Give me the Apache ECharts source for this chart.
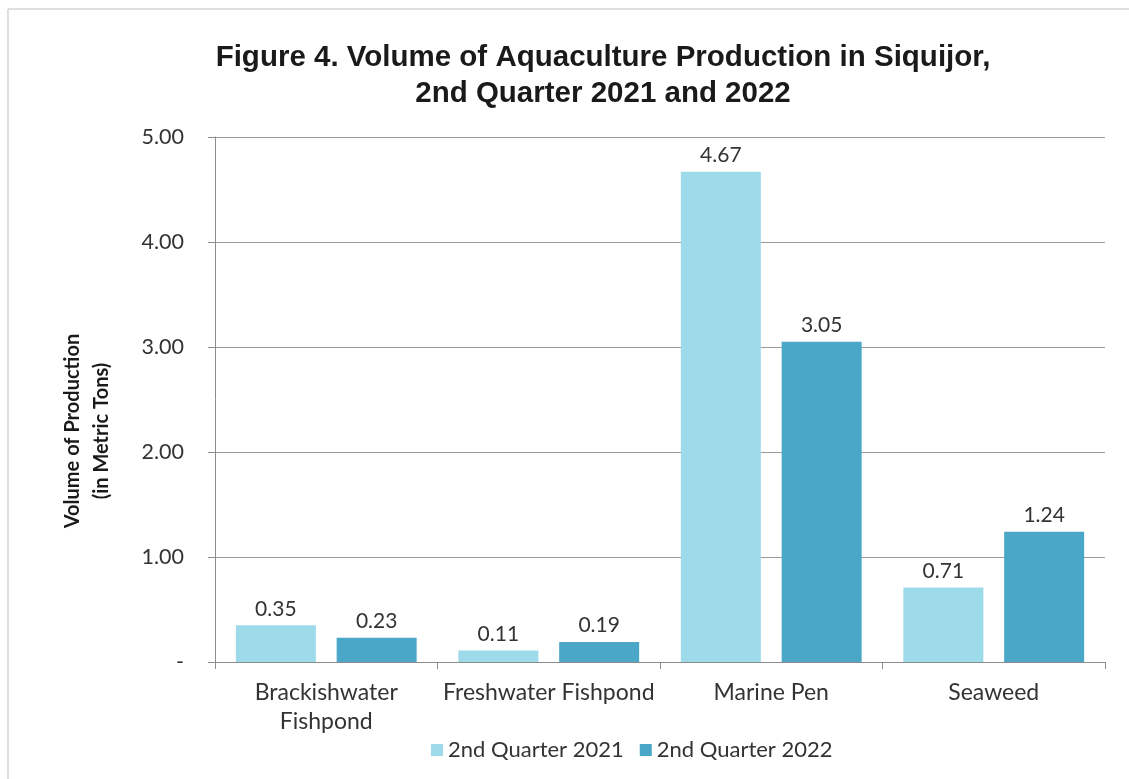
<!DOCTYPE html>
<html>
<head>
<meta charset="utf-8">
<script src="https://cdn.jsdelivr.net/npm/echarts@6/dist/echarts.min.js"></script>
<style>
html,body{margin:0;padding:0;background:#fff;}
#c{width:1129px;height:779px;}
</style>
</head>
<body>
<div id="c"></div>
<script>
const categories = ['Brackishwater\nFishpond', 'Freshwater Fishpond', 'Marine Pen', 'Seaweed'];
const seriesNames = ['2nd Quarter 2021', '2nd Quarter 2022'];
const q2021 = [0.35, 0.11, 4.67, 0.71];
const q2022 = [0.23, 0.19, 3.05, 1.24];
const titleLines = ['Figure 4. Volume of Aquaculture Production in Siquijor,', '2nd Quarter 2021 and 2022'];
const yAxisTitle = ['Volume of Production', '(in Metric Tons)'];

const FONT = 'Lato';
const chart = echarts.init(document.getElementById('c'));
const labelCfg = {show: true, position: 'top', distance: 6, color: '#333', fontSize: 21, fontFamily: FONT,
  formatter: p => p.value.toFixed(2)};
chart.setOption({
  animation: false,
  title: {
    text: titleLines.join('\n'), left: 598, textAlign: 'center', top: 35,
    textStyle: {fontFamily: 'Liberation Sans', fontWeight: 'bold', fontSize: 29.5, lineHeight: 36, color: '#1a1a1a'}
  },
  graphic: [
    {type: 'line', shape: {x1: 8, y1: 9, x2: 1129, y2: 9}, style: {stroke: '#d4d4d4', lineWidth: 1.5}},
    {type: 'line', shape: {x1: 8, y1: 9, x2: 8, y2: 779}, style: {stroke: '#d4d4d4', lineWidth: 1.5}},
    {type: 'text', x: 87, y: 431, rotation: Math.PI / 2,
      style: {text: yAxisTitle.join('\n'), align: 'center', verticalAlign: 'middle', fontFamily: FONT,
        fontWeight: 'bold', fontSize: 20, lineHeight: 29, fill: '#1a1a1a'}}
  ],
  legend: {
    data: seriesNames, bottom: 13, left: 426, itemWidth: 12, itemHeight: 12, itemGap: 16,
    icon: 'rect', textStyle: {fontFamily: FONT, fontSize: 22, color: '#333'}
  },
  grid: {left: 215, right: 24, top: 137, bottom: 117},
  xAxis: {
    type: 'category', data: categories,
    axisLine: {lineStyle: {color: '#8c8c8c', width: 1}},
    axisTick: {show: true, alignWithLabel: false, length: 7, lineStyle: {color: '#8c8c8c'}},
    axisLabel: {fontFamily: FONT, fontSize: 23, color: '#333', lineHeight: 29, margin: 16, interval: 0}
  },
  yAxis: {
    type: 'value', min: 0, max: 5, interval: 1,
    axisLine: {show: true, lineStyle: {color: '#8c8c8c', width: 1}},
    axisTick: {show: true, length: 7, lineStyle: {color: '#8c8c8c'}},
    splitLine: {lineStyle: {color: '#9a9a9a', width: 1}},
    axisLabel: {fontFamily: FONT, fontSize: 21.5, color: '#333', margin: 31,
      formatter: v => v === 0 ? '-' : v.toFixed(2)}
  },
  series: [
    {name: seriesNames[0], type: 'bar', data: q2021, barWidth: 80, barGap: '26%',
      itemStyle: {color: '#9ddbea'}, label: labelCfg},
    {name: seriesNames[1], type: 'bar', data: q2022, barWidth: 80,
      itemStyle: {color: '#4aa7c8'}, label: labelCfg}
  ]
});
</script>
</body>
</html>
